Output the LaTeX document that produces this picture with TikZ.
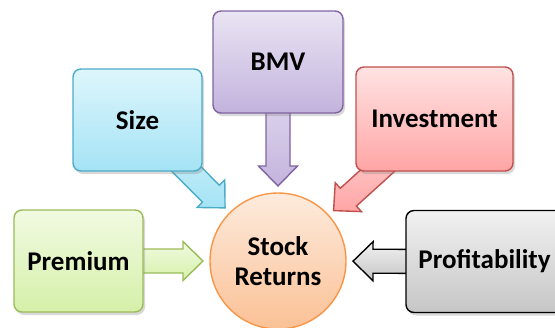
\documentclass[tikz,border=0pt]{standalone}
\usepackage{fontspec}
\setmainfont{Carlito}
\usepackage{tikz}
\usetikzlibrary{calc}
\usetikzlibrary{shadows,backgrounds}

\definecolor{premTop}{HTML}{F1FAE2}
\definecolor{premBot}{HTML}{D5F0A9}
\definecolor{premLine}{HTML}{9BBB59}
\definecolor{sizeTop}{HTML}{DEF6FC}
\definecolor{sizeBot}{HTML}{A4E3F5}
\definecolor{sizeLine}{HTML}{4BACC6}
\definecolor{bmvTop}{HTML}{EAE4F3}
\definecolor{bmvBot}{HTML}{C3B3DD}
\definecolor{bmvLine}{HTML}{8064A2}
\definecolor{invTop}{HTML}{FFE3E3}
\definecolor{invBot}{HTML}{FFA5A5}
\definecolor{invLine}{HTML}{C0504D}
\definecolor{profTop}{HTML}{F1F1F1}
\definecolor{profBot}{HTML}{C6C6C6}
\definecolor{profLine}{HTML}{000000}
\definecolor{retTop}{HTML}{FDEBDD}
\definecolor{retBot}{HTML}{FBC196}
\definecolor{retLine}{HTML}{F79646}

\begin{document}
\begin{tikzpicture}[x=1bp,y=-1bp,
    txt/.style={font=\fontsize{27bp}{30bp}\selectfont\bfseries},
    box/.style={txt,draw,rounded corners=8bp,line width=1.4bp,
        minimum width=129bp,minimum height=102bp,
        drop shadow={opacity=.3,shadow xshift=2bp,shadow yshift=-3bp}},
    blk/.style={draw,line width=1.4bp,line join=miter}]
    \useasboundingbox (0,0) rectangle (555,327);

    % boxes round the circle
    \node[box,draw=premLine,top color=premTop,bottom color=premBot] (prem) at (78.5,261) {Premium};
    \node[box,draw=sizeLine,top color=sizeTop,bottom color=sizeBot] (size) at (137.5,120) {Size};
    \node[box,draw=bmvLine,top color=bmvTop,bottom color=bmvBot,minimum width=130bp] (bmv) at (278,62) {BMV};
    \node[box,draw=invLine,top color=invTop,bottom color=invBot,minimum width=157bp,minimum height=104bp] (inv) at (434.5,119) {Investment};
    \node[box,draw=profLine,top color=profTop,bottom color=profBot,minimum width=157bp] (prof) at (484.5,261.5) {Profitability};
    \node[txt,circle,draw=retLine,line width=1.4bp,top color=retTop,bottom color=retBot,
        minimum size=136bp,align=center,inner sep=0pt] (ret) at (278,261) {Stock\\Returns};

    % block arrows into the circle
    \begin{scope}[on background layer]
    \foreach \b in {prem,size,bmv,inv,prof}{
        \coordinate (s) at (\b.center);
        \coordinate (t) at ($(ret.center)!75bp!(\b.center)$);
        \coordinate (h) at ($(t)!20bp!(s)$);
        \draw[blk,draw=\b Line,top color=\b Top,bottom color=\b Bot]
            ($(s)!12bp!90:(t)$) -- ($(h)!12bp!90:(t)$) -- ($(h)!19.5bp!90:(t)$) -- (t)
            -- ($(h)!19.5bp!-90:(t)$) -- ($(h)!12bp!-90:(t)$) -- ($(s)!12bp!-90:(t)$) -- cycle;
    }
    \end{scope}
\end{tikzpicture}
\end{document}
